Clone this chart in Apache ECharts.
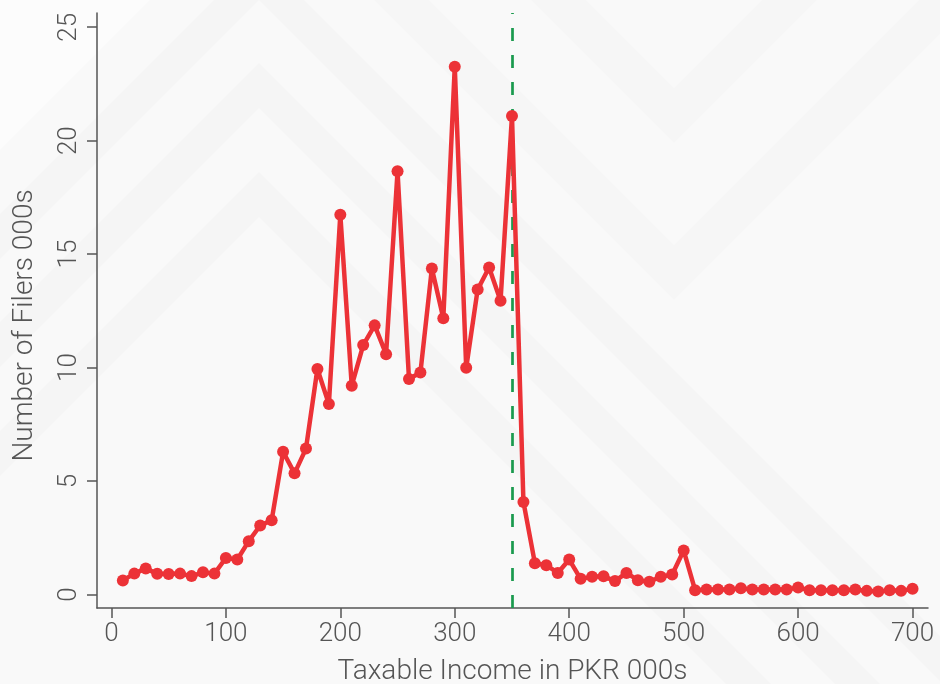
<!DOCTYPE html>
<html>
<head>
<meta charset="utf-8">
<script src="https://cdn.jsdelivr.net/npm/echarts@6/dist/echarts.min.js"></script>
<style>
html,body{margin:0;padding:0;background:#f9f9f9;}
#chart{width:940px;height:684px;}
</style>
</head>
<body>
<div id="chart"></div>
<script>
// ---- data ----
const incomes = [10,20,30,40,50,60,70,80,90,100,110,120,130,140,150,160,170,180,190,200,
  210,220,230,240,250,260,270,280,290,300,310,320,330,340,350,360,370,380,390,400,
  410,420,430,440,450,460,470,480,490,500,510,520,530,540,550,560,570,580,590,600,
  610,620,630,640,650,660,670,680,690,700];
const filers = [0.62,0.92,1.15,0.91,0.90,0.92,0.81,0.98,0.92,1.61,
  1.54,2.35,3.04,3.27,6.29,5.34,6.43,9.94,8.39,16.74,
  9.20,10.99,11.86,10.59,18.65,9.50,9.78,14.37,12.17,23.26,
  9.99,13.44,14.41,12.95,21.09,4.08,1.38,1.29,0.95,1.54,
  0.69,0.78,0.80,0.59,0.95,0.63,0.56,0.78,0.88,1.94,
  0.19,0.22,0.22,0.22,0.28,0.22,0.22,0.22,0.22,0.31,
  0.19,0.19,0.19,0.19,0.22,0.16,0.13,0.19,0.16,0.25];
const threshold = 350;
const xTicks = [0,100,200,300,400,500,600,700];
const yTicks = [0,5,10,15,20,25];
const xTitle = 'Taxable Income in PKR 000s';
const yTitle = 'Number of Filers 000s';

// ---- background chevrons (decorative) ----
function upBand(cx, ay, t, W){
  return [[cx, ay - t],[cx + W, ay - t + W],[cx + W, ay + W],[cx, ay],[cx - W, ay + W],[cx - W, ay - t + W]];
}
function downBand(cx, vy, t, W){
  return [[cx, vy - t],[cx + W, vy - t - W],[cx + W, vy - W],[cx, vy],[cx - W, vy - W],[cx - W, vy - t - W]];
}
const bg = [];
[[259,0],[259,108],[259,217]].forEach(function(a){
  bg.push({type:'polygon', silent:true, z:-10, shape:{points:upBand(a[0],a[1],45,900)},
    style:{fill:'rgba(0,0,0,0.014)'}});
});
[[674,143],[674,300]].forEach(function(a){
  bg.push({type:'polygon', silent:true, z:-10, shape:{points:downBand(a[0],a[1],55,900)},
    style:{fill:'rgba(0,0,0,0.013)'}});
});
bg.push({type:'polygon', silent:true, z:-10, shape:{points:[[0,0],[150,0],[0,150]]},
  style:{fill:'rgba(255,255,255,0.5)'}});

const font = 'Roboto, "Liberation Sans", sans-serif';
const textColor = '#555';

const chart = echarts.init(document.getElementById('chart'), null, {renderer:'canvas'});
chart.setOption({
  backgroundColor:'#f9f9f9',
  animation:false,
  graphic: bg,
  grid:{left:97, right:12, top:13, bottom:76, containLabel:false, outerBoundsMode:'none'},
  xAxis:{
    type:'value', min:-12.6, max:713.5,
    name:xTitle, nameLocation:'middle', nameGap:50,
    nameTextStyle:{fontFamily:font, fontWeight:300, fontSize:28, color:textColor},
    axisLine:{show:true, onZero:false, lineStyle:{color:'#555', width:1.5}},
    axisTick:{show:true, length:10, customValues:xTicks, lineStyle:{color:'#555', width:1.5}},
    axisLabel:{customValues:xTicks, fontFamily:font, fontWeight:300, fontSize:26, color:textColor, margin:13},
    splitLine:{show:false}
  },
  yAxis:{
    type:'value', min:-0.595, max:25.626,
    name:yTitle, nameLocation:'middle', nameGap:58,
    nameTextStyle:{fontFamily:font, fontWeight:300, fontSize:28, color:textColor, padding:[0,30,0,0]},
    axisLine:{show:true, onZero:false, lineStyle:{color:'#555', width:1.5}},
    axisTick:{show:true, length:10, customValues:yTicks, lineStyle:{color:'#555', width:1.5}},
    axisLabel:{customValues:yTicks, rotate:90, fontFamily:font, fontWeight:300, fontSize:26, color:textColor, margin:15},
    splitLine:{show:false}
  },
  series:[{
    type:'line',
    data: incomes.map(function(x,i){ return [x, filers[i]]; }),
    symbol:'circle', symbolSize:12, showSymbol:true,
    lineStyle:{color:'#ec3237', width:4.5},
    itemStyle:{color:'#ec3237'},
    z:5,
    markLine:{
      silent:true, symbol:['none','none'], label:{show:false},
      lineStyle:{color:'#1a9a4e', type:[13,14], width:2.7},
      data:[{xAxis:threshold}],
      z:3
    }
  }]
});
</script>
</body>
</html>
